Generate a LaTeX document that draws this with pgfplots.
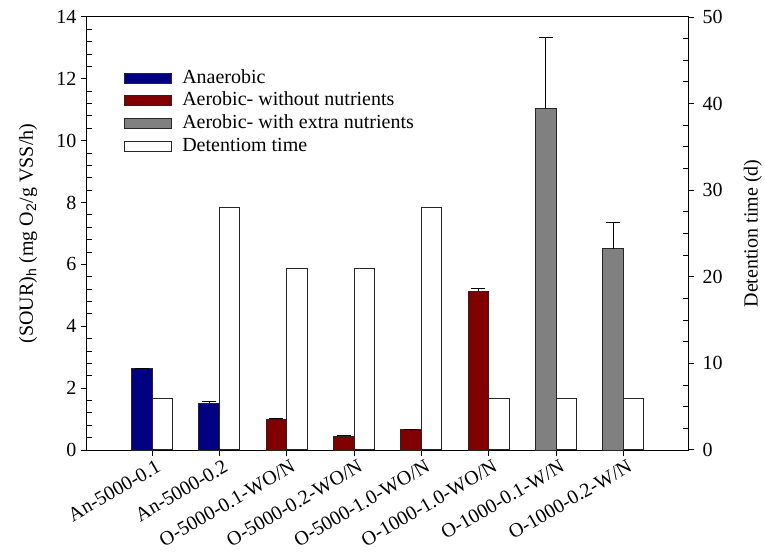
\documentclass[border=0pt]{standalone}
\usepackage{fontspec}
\setmainfont{Liberation Serif}
\setsansfont{Liberation Sans}
\usepackage{pgfplots}
\pgfplotsset{compat=1.18}
\definecolor{anblue}{RGB}{0,0,128}
\definecolor{aered}{RGB}{128,0,0}
\definecolor{aegray}{RGB}{128,128,128}
\newcommand{\fs}{\fontsize{15}{17}\selectfont}
\begin{document}
\begin{tikzpicture}
\path[use as bounding box] (-65.25pt,-78pt) rectangle (508.5pt,337.5pt);
\pgfplotsset{
 common/.style={
  at={(0pt,0pt)}, anchor=south west,
  scale only axis, width=450.75pt, height=324.75pt,
  xmin=-0.966, xmax=7.96,
  ybar, bar width=0.305,
  tick align=outside, major tick length=4.5pt, minor tick length=-3.5pt,
  tick style={black, line width=0.75pt},
  axis line style={black, line width=0.75pt},
  tick label style={font=\fs},
  label style={font=\fs},
  /pgf/number format/assume math mode=true,
 }
}
\begin{axis}[common,
  ymin=0, ymax=14, ytick={0,2,...,14}, minor y tick num=4,
  xtick={0,...,7}, xtick pos=bottom, ytick pos=left,
  xticklabels={An-5000-0.1, An-5000-0.2, O-5000-0.1-WO/N, O-5000-0.2-WO/N, O-5000-1.0-WO/N, O-1000-1.0-WO/N, O-1000-0.1-W/N, O-1000-0.2-W/N},
  xticklabel style={rotate=30, anchor=north east, inner sep=1pt, xshift=2pt, yshift=-2pt},
  ylabel={(SOUR)\textsubscript{\sffamily h} (mg O\textsubscript{\sffamily 2}/g VSS/h)},
  ylabel style={at={(axis description cs:-0.098,0.5)}, anchor=center},
  legend cell align=left,
  legend style={draw=none, fill=none, at={(axis description cs:0,1)}, anchor=north west, xshift=27.5pt, yshift=-38pt, font=\fs, inner sep=0pt, row sep=1.5pt, nodes={inner sep=1pt, text height=10.5pt, text depth=3pt}, /tikz/every odd column/.append style={column sep=7pt}},
  legend image code/.code={\draw[#1] (0pt,-3.75pt) rectangle (35pt,3.75pt);},
  error bars/error bar style={black, line width=0.75pt},
  error bars/error mark options={black, rotate=90, mark size=5.25pt, line width=0.75pt},
]
\addplot[fill=anblue, draw=black!85, line width=0.75pt, bar shift=-0.1525,
  error bars/.cd, y dir=plus, y explicit]
  coordinates {(0,2.62) +- (0,0.03) (1,1.51) +- (0,0.07)};
\addlegendentry{Anaerobic}
\addplot[fill=aered, draw=black!85, line width=0.75pt, bar shift=-0.1525,
  error bars/.cd, y dir=plus, y explicit]
  coordinates {(2,1.00) +- (0,0.01) (3,0.45) +- (0,0.03) (4,0.65) +- (0,0.01) (5,5.14) +- (0,0.09)};
\addlegendentry{Aerobic- without nutrients}
\addplot[fill=aegray, draw=black!85, line width=0.75pt, bar shift=-0.1525,
  error bars/.cd, y dir=plus, y explicit]
  coordinates {(6,11.03) +- (0,2.32) (7,6.50) +- (0,0.86)};
\addlegendentry{Aerobic- with extra nutrients}
\addlegendimage{fill=white, draw=black!85, line width=0.75pt}
\addlegendentry{Detentiom time}
\end{axis}
\begin{axis}[common,
  ymin=0, ymax=50, ytick={0,10,...,50}, minor y tick num=3,
  axis y line*=right, axis x line=none,
  yticklabel style={xshift=3pt},
  ylabel={Detention time (d)},
  ylabel style={at={(axis description cs:1.108,0.5)}, anchor=center},
]
\addplot[fill=white, draw=black!85, line width=0.75pt, bar shift=0.1525]
  coordinates {(0,6) (1,28) (2,21) (3,21) (4,28) (5,6) (6,6) (7,6)};
\end{axis}
\end{tikzpicture}
\end{document}
